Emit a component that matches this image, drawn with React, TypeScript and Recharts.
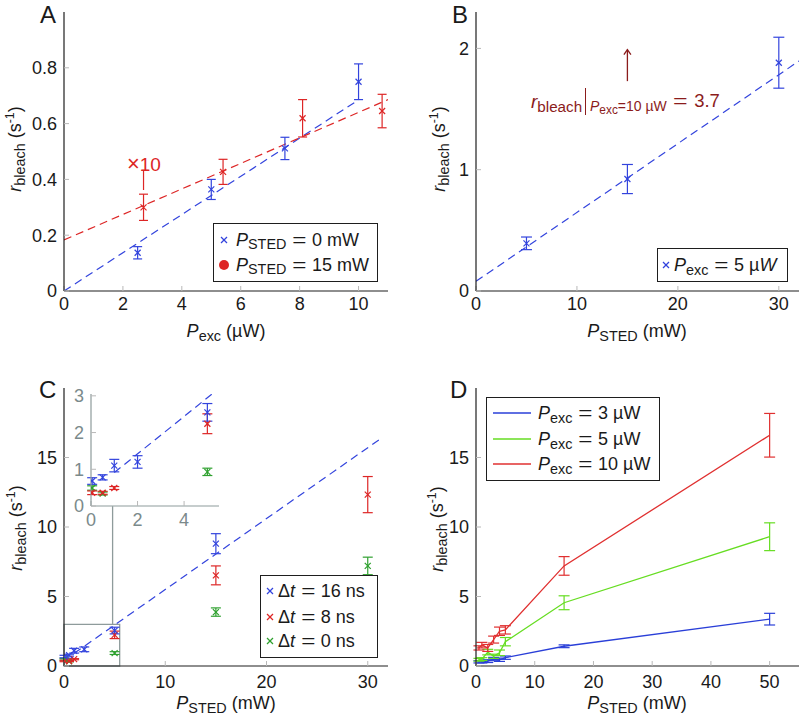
import React from 'react';
import { ComposedChart, Scatter, Line, XAxis, YAxis, ErrorBar, ReferenceLine, ReferenceArea, CartesianGrid } from 'recharts';

const FONT = '"Liberation Sans", Arial, Helvetica, sans-serif';
const INK = '#1a1a1a';
const BLUE = '#3344dd';
const RED = '#dd2626';
const GREEN = '#2ea02e';
const DBLUE = '#2a3fd8';
const DGREEN = '#66dd22';
const DRED = '#e03030';
const DARKRED = '#8b1c1c';
const FRAME = '#1e1e1e';
const TICK = '#b8b8b8';
const INSET = '#8e9b9b';
const INSET_TEXT = '#7b8a8b';
const TICK_FONT = 18;
const TEXT_FONT = 18;

// ---------- Panel A ----------
const aBlueX = [2.5, 5, 7.5, 10];
const aBlueY = [0.137, 0.364, 0.511, 0.75];
const aBlueErr = [0.022, 0.036, 0.04, 0.064];
const aRedX = [2.7, 5.4, 8.1, 10.8];
const aRedY = [0.3, 0.427, 0.619, 0.645];
const aRedErr = [0.047, 0.045, 0.067, 0.06];
const aBlueFit = [[0, 0], [10, 0.685]];
const aRedFit = [[0, 0.183], [11, 0.686]];
const aMarkLine = [[2.7, 0.362], [2.7, 0.434]];
const aXTicks = [0, 2, 4, 6, 8, 10];
const aYTicks = [0, 0.2, 0.4, 0.6, 0.8];

// ---------- Panel B ----------
const bX = [5, 15, 30];
const bY = [0.393, 0.923, 1.882];
const bErr = [0.052, 0.12, 0.21];
const bFit = [[0, 0.08], [32, 1.896]];
const bArrow = [[15, 1.73], [15, 1.99]];
const bXTicks = [0, 10, 20, 30];
const bYTicks = [0, 1, 2];

// ---------- Panel C ----------
const cBlueX = [0.05, 0.5, 1, 2, 5, 15];
const cBlueY = [0.68, 0.78, 1.1, 1.2, 2.55, 8.8];
const cBlueErr = [0.09, 0.07, 0.17, 0.17, 0.24, 0.72];
const cRedX = [0.05, 0.5, 1, 5, 15, 30];
const cRedY = [0.36, 0.36, 0.49, 2.24, 6.52, 12.33];
const cRedErr = [0.05, 0.04, 0.04, 0.27, 0.68, 1.3];
const cGreenX = [0.05, 0.5, 5, 15, 30];
const cGreenY = [0.49, 0.34, 0.93, 3.88, 7.2];
const cGreenErr = [0.06, 0.04, 0.1, 0.3, 0.63];
const cFit = [[1, 0.91], [31.5, 16.47]];
const cInsetFit = [[1, 0.91], [5.2, 3.05]];
const cZoomBox = [0, 5.5, 0, 3];
const cConnector = [[4.8, 3], [4.8, 11.5]];
const cXTicks = [0, 10, 20, 30];
const cYTicks = [0, 5, 10, 15];
const cInsetXTicks = [0, 2, 4];
const cInsetYTicks = [0, 1, 2, 3];

// ---------- Panel D ----------
const dX = [0.5, 1, 2, 3, 4, 5, 15, 50];
const dBlueY = [0.3, 0.3, 0.35, 0.5, 0.45, 0.6, 1.42, 3.37];
const dBlueErr = [0.08, 0.08, 0.1, 0.12, 0.12, 0.12, 0.1, 0.42];
const dGreenY = [0.45, 0.5, 1.0, 0.7, 0.95, 1.75, 4.55, 9.3];
const dGreenErr = [0.1, 0.1, 0.2, 0.15, 0.2, 0.3, 0.5, 1.0];
const dRedY = [1.3, 1.5, 1.3, 1.9, 2.5, 2.6, 7.2, 16.6];
const dRedErr = [0.15, 0.2, 0.25, 0.25, 0.3, 0.3, 0.67, 1.57];
const dXTicks = [0, 10, 20, 30, 40, 50];
const dYTicks = [0, 5, 10, 15];

const pts = (xs: number[], ys: number[], es?: number[]) => xs.map((x, i) => ({ x, y: ys[i], e: es ? es[i] : 0 }));
const seg = (p: number[][]) => p.map(([x, y]) => ({ x, y }));

const xShape = (color: string, r = 3) => (props: any) => {
  const { cx, cy } = props;
  if (cx == null || cy == null) return <g />;
  return (
    <g stroke={color} strokeWidth={1.2}>
      <line x1={cx - r} y1={cy - r} x2={cx + r} y2={cy + r} />
      <line x1={cx - r} y1={cy + r} x2={cx + r} y2={cy - r} />
    </g>
  );
};

type AxCfg = { xd: [number, number]; yd: [number, number]; xt: number[]; yt: number[]; yw: number; xh: number; frame?: string; tc?: string; lc?: string; xm?: number; ym?: number };
const axes = (c: AxCfg) => {
  const frame = c.frame ?? FRAME;
  const tc = c.tc ?? TICK;
  const lc = c.lc ?? INK;
  const tickStyle = { fontSize: TICK_FONT, fill: lc, fontFamily: FONT };
  return [
    <XAxis key="xb" type="number" dataKey="x" domain={c.xd} ticks={c.xt} allowDataOverflow interval={0} height={c.xh}
      axisLine={{ stroke: frame, strokeWidth: 1.2 }} tickLine={{ stroke: tc }} tickSize={-5} tickMargin={c.xm ?? 12} tick={tickStyle} />,
    <XAxis key="xt" xAxisId="top" orientation="top" type="number" dataKey="x" domain={c.xd} ticks={c.xt} allowDataOverflow interval={0} height={0}
      axisLine={{ stroke: frame, strokeWidth: 1.2 }} tickLine={{ stroke: tc }} tickSize={-5} tick={false} />,
    <YAxis key="yl" type="number" dataKey="y" domain={c.yd} ticks={c.yt} allowDataOverflow interval={0} width={c.yw}
      axisLine={{ stroke: frame, strokeWidth: 1.2 }} tickLine={{ stroke: tc }} tickSize={-5} tickMargin={c.ym ?? 12} tick={tickStyle} />,
    <YAxis key="yr" yAxisId="right" orientation="right" type="number" dataKey="y" domain={c.yd} ticks={c.yt} allowDataOverflow interval={0} width={0}
      axisLine={{ stroke: frame, strokeWidth: 1.2 }} tickLine={{ stroke: tc }} tickSize={-5} tick={false} />,
  ];
};

const scat = (key: string, data: any[], color: string, cap = 5) => (
  <Scatter key={key} data={data} dataKey="y" fill={color} shape={xShape(color)} isAnimationActive={false}>
    <ErrorBar dataKey="e" direction="y" width={cap} stroke={color} strokeWidth={1.2} />
  </Scatter>
);

const fitLine = (key: string, data: number[][], color: string) => (
  <Line key={key} data={seg(data)} dataKey="y" stroke={color} strokeWidth={1.2} strokeDasharray="8 5" dot={false} activeDot={false} isAnimationActive={false} />
);

const Sub: React.FC<{ children: React.ReactNode; s?: number }> = ({ children, s = 0.8 }) => (
  <span style={{ fontSize: `${s}em`, position: 'relative', top: '0.26em' }}>{children}</span>
);
const Sup: React.FC<{ children: React.ReactNode }> = ({ children }) => (
  <span style={{ fontSize: '0.68em', position: 'relative', top: '-0.55em' }}>{children}</span>
);
const Eq: React.FC = () => (
  <span style={{ display: 'inline-block', margin: '0 0.42em', transform: 'scaleX(1.35)' }}>=</span>
);

const Txt: React.FC<{ x: number; y: number; size?: number; color?: string; align?: 'left' | 'center'; rot?: boolean; children: React.ReactNode }> = ({ x, y, size = TEXT_FONT, color = INK, align = 'left', rot = false, children }) => (
  <div style={{
    position: 'absolute', left: x, top: y, fontSize: size, color, fontFamily: FONT, lineHeight: 1, whiteSpace: 'nowrap',
    transform: rot ? 'translate(-50%,-50%) rotate(-90deg)' : align === 'center' ? 'translate(-50%,-50%)' : 'translate(0,-50%)',
  }}>{children}</div>
);

const XIcon: React.FC<{ x: number; y: number; color: string; r?: number }> = ({ x, y, color, r = 3.5 }) => (
  <svg style={{ position: 'absolute', left: x - 6, top: y - 6 }} width={12} height={12}>
    <line x1={6 - r} y1={6 - r} x2={6 + r} y2={6 + r} stroke={color} strokeWidth={1.2} />
    <line x1={6 - r} y1={6 + r} x2={6 + r} y2={6 - r} stroke={color} strokeWidth={1.2} />
  </svg>
);
const DotIcon: React.FC<{ x: number; y: number; color: string }> = ({ x, y, color }) => (
  <svg style={{ position: 'absolute', left: x - 6, top: y - 6 }} width={12} height={12}>
    <circle cx={6} cy={6} r={5} fill={color} />
  </svg>
);
const LineIcon: React.FC<{ x: number; y: number; w: number; color: string }> = ({ x, y, w, color }) => (
  <svg style={{ position: 'absolute', left: x, top: y - 2 }} width={w} height={4}>
    <line x1={0} y1={2} x2={w} y2={2} stroke={color} strokeWidth={1.4} />
  </svg>
);
const Box: React.FC<{ x: number; y: number; w: number; h: number }> = ({ x, y, w, h }) => (
  <div style={{ position: 'absolute', left: x, top: y, width: w, height: h, border: `1.2px solid ${FRAME}`, background: '#fff', boxSizing: 'border-box' }} />
);

const arrowShape = (color: string) => (props: any) => {
  const { x1, y1, x2, y2 } = props;
  if (x1 == null) return <g />;
  return (
    <g stroke={color} strokeWidth={1.3} fill="none">
      <line x1={x1} y1={y1} x2={x2} y2={y2} />
      <polyline points={`${x2 - 3.5},${y2 + 5} ${x2},${y2} ${x2 + 3.5},${y2 + 5}`} />
    </g>
  );
};

const Pexc = () => (<><i>P</i><Sub>exc</Sub></>);
const Psted = () => (<><i>P</i><Sub>STED</Sub></>);
const YLab = () => (<><i>r</i><Sub>bleach</Sub>&nbsp;(s<Sup>-1</Sup>)</>);

export default function App() {
  return (
    <div style={{ position: 'absolute', left: 0, top: 0, width: 802, height: 717, background: '#fff', fontFamily: FONT, overflow: 'hidden' }}>
      {/* Panel A */}
      <div style={{ position: 'absolute', left: 0, top: 0 }}>
        <ComposedChart width={400} height={360} margin={{ top: 12, right: 12, bottom: 39, left: 0 }}>
          {axes({ xd: [0, 11], yd: [0, 1], xt: aXTicks, yt: aYTicks, yw: 64, xh: 30, xm: 11 })}
          {fitLine('fb', aBlueFit, BLUE)}
          {fitLine('fr', aRedFit, RED)}
          <ReferenceLine segment={seg(aMarkLine) as any} stroke={RED} strokeWidth={1.2} ifOverflow="visible" />
          {scat('sb', pts(aBlueX, aBlueY, aBlueErr), BLUE, 4.5)}
          {scat('sr', pts(aRedX, aRedY, aRedErr), RED, 4.5)}
        </ComposedChart>
      </div>
      {/* Panel B */}
      <div style={{ position: 'absolute', left: 400, top: 0 }}>
        <ComposedChart width={402} height={360} margin={{ top: 12, right: 3, bottom: 39, left: 0 }}>
          {axes({ xd: [0, 32], yd: [0, 2.3], xt: bXTicks, yt: bYTicks, yw: 76, xh: 30, xm: 11 })}
          {fitLine('fb', bFit, BLUE)}
          <ReferenceLine segment={seg(bArrow) as any} shape={arrowShape(DARKRED)} ifOverflow="visible" />
          {scat('sb', pts(bX, bY, bErr), BLUE, 5.5)}
        </ComposedChart>
      </div>
      {/* Panel C */}
      <div style={{ position: 'absolute', left: 0, top: 360 }}>
        <ComposedChart width={400} height={357} margin={{ top: 28, right: 12, bottom: 21, left: 0 }}>
          {axes({ xd: [0, 32], yd: [0, 20], xt: cXTicks, yt: cYTicks, yw: 64, xh: 30, xm: 14 })}
          <ReferenceArea x1={cZoomBox[0]} x2={cZoomBox[1]} y1={cZoomBox[2]} y2={cZoomBox[3]} fill="none" stroke={INSET} strokeWidth={1.3} ifOverflow="visible" />
          <ReferenceLine segment={seg(cConnector) as any} stroke={INSET} strokeWidth={1.3} ifOverflow="visible" />
          {fitLine('fc', cFit, BLUE)}
          {scat('sg', pts(cGreenX, cGreenY, cGreenErr), GREEN, 5)}
          {scat('sr', pts(cRedX, cRedY, cRedErr), RED, 5)}
          {scat('sb', pts(cBlueX, cBlueY, cBlueErr), BLUE, 5)}
        </ComposedChart>
      </div>
      {/* Panel C inset */}
      <div style={{ position: 'absolute', left: 40, top: 384 }}>
        <ComposedChart width={179} height={152} margin={{ top: 10, right: 0, bottom: 0, left: 0 }}>
          <CartesianGrid fill="#fff" horizontal={false} vertical={false} />
          {axes({ xd: [0, 5.5], yd: [0, 3.05], xt: cInsetXTicks, yt: cInsetYTicks, yw: 51, xh: 30, frame: INSET, lc: INSET_TEXT, xm: 12 })}
          {fitLine('fi', cInsetFit, BLUE)}
          {scat('sg', pts(cGreenX, cGreenY, cGreenErr).filter(d => d.x <= 5.5), GREEN, 5)}
          {scat('sr', pts(cRedX, cRedY, cRedErr).filter(d => d.x <= 5.5), RED, 5)}
          {scat('sb', pts(cBlueX, cBlueY, cBlueErr).filter(d => d.x <= 5.5), BLUE, 5)}
        </ComposedChart>
      </div>
      {/* Panel D */}
      <div style={{ position: 'absolute', left: 400, top: 360 }}>
        <ComposedChart width={402} height={357} margin={{ top: 28, right: 3, bottom: 21, left: 0 }}>
          {axes({ xd: [0, 55], yd: [0, 20], xt: dXTicks, yt: dYTicks, yw: 76, xh: 30, xm: 14 })}
          <Line data={pts(dX, dBlueY, dBlueErr)} dataKey="y" stroke={DBLUE} strokeWidth={1.3} dot={false} activeDot={false} isAnimationActive={false}>
            <ErrorBar dataKey="e" direction="y" width={5.5} stroke={DBLUE} strokeWidth={1.2} />
          </Line>
          <Line data={pts(dX, dGreenY, dGreenErr)} dataKey="y" stroke={DGREEN} strokeWidth={1.3} dot={false} activeDot={false} isAnimationActive={false}>
            <ErrorBar dataKey="e" direction="y" width={5.5} stroke={DGREEN} strokeWidth={1.2} />
          </Line>
          <Line data={pts(dX, dRedY, dRedErr)} dataKey="y" stroke={DRED} strokeWidth={1.3} dot={false} activeDot={false} isAnimationActive={false}>
            <ErrorBar dataKey="e" direction="y" width={5.5} stroke={DRED} strokeWidth={1.2} />
          </Line>
        </ComposedChart>
      </div>

      {/* Panel letters */}
      <Txt x={40} y={14.5} size={24}>A</Txt>
      <Txt x={452} y={14.5} size={24}>B</Txt>
      <Txt x={39} y={390} size={24}>C</Txt>
      <Txt x={450} y={390} size={24}>D</Txt>

      {/* Axis titles */}
      <Txt x={15} y={149} rot>{<YLab />}</Txt>
      <Txt x={439} y={149} rot>{<YLab />}</Txt>
      <Txt x={16} y={528} rot>{<YLab />}</Txt>
      <Txt x={437} y={529} rot>{<YLab />}</Txt>
      <Txt x={226} y={331} align="center"><Pexc /> (µW)</Txt>
      <Txt x={637} y={331} align="center"><Psted /> (mW)</Txt>
      <Txt x={226} y={703} align="center"><Psted /> (mW)</Txt>
      <Txt x={637} y={703} align="center"><Psted /> (mW)</Txt>

      {/* Panel A annotations & legend */}
      <Txt x={127} y={164} color={RED} size={19}><span style={{ fontSize: '1.15em' }}>×</span>10</Txt>
      <Box x={213} y={223} w={165} h={59} />
      <XIcon x={224} y={239.5} color={BLUE} r={3} />
      <Txt x={236} y={239.5}><Psted /><Eq />0 mW</Txt>
      <DotIcon x={224} y={265} color={RED} />
      <Txt x={236} y={264.5}><Psted /><Eq />15 mW</Txt>

      {/* Panel B annotation & legend */}
      <Txt x={531} y={101} color={DARKRED} size={19}><i>r</i><Sub>bleach</Sub></Txt>
      <div style={{ position: 'absolute', left: 585, top: 88, width: 0, height: 27, borderLeft: `1.2px solid ${DARKRED}` }} />
      <Txt x={590} y={106} color={DARKRED} size={14}><i>P</i><Sub s={0.85}>exc</Sub>=10 µW</Txt>
      <Txt x={675} y={101} color={DARKRED} size={18.5}><span style={{ display: 'inline-block', transform: 'scaleX(1.35)', marginRight: '0.45em' }}>=</span>3.7</Txt>
      <Box x={657} y={248} w={131} h={34} />
      <XIcon x={666} y={265} color={BLUE} r={3} />
      <Txt x={674} y={265}><Pexc /><Eq />5 µ<i>W</i></Txt>

      {/* Panel C legend */}
      <Box x={260} y={575} w={118} h={83} />
      <XIcon x={270} y={591} color={BLUE} r={3} />
      <Txt x={278} y={591}>Δ<i>t</i><Eq />16 ns</Txt>
      <XIcon x={270} y={616.5} color={RED} r={3} />
      <Txt x={278} y={616.5}>Δ<i>t</i><Eq />8 ns</Txt>
      <XIcon x={270} y={641} color={GREEN} r={3} />
      <Txt x={278} y={641}>Δ<i>t</i><Eq />0 ns</Txt>

      {/* Panel D legend */}
      <Box x={486} y={397} w={174} h={84} />
      <LineIcon x={493} y={413} w={38} color={DBLUE} />
      <Txt x={538} y={413}><Pexc /><Eq />3 µW</Txt>
      <LineIcon x={493} y={439} w={38} color={DGREEN} />
      <Txt x={538} y={439}><Pexc /><Eq />5 µW</Txt>
      <LineIcon x={493} y={464} w={38} color={DRED} />
      <Txt x={538} y={464}><Pexc /><Eq />10 µW</Txt>
    </div>
  );
}
